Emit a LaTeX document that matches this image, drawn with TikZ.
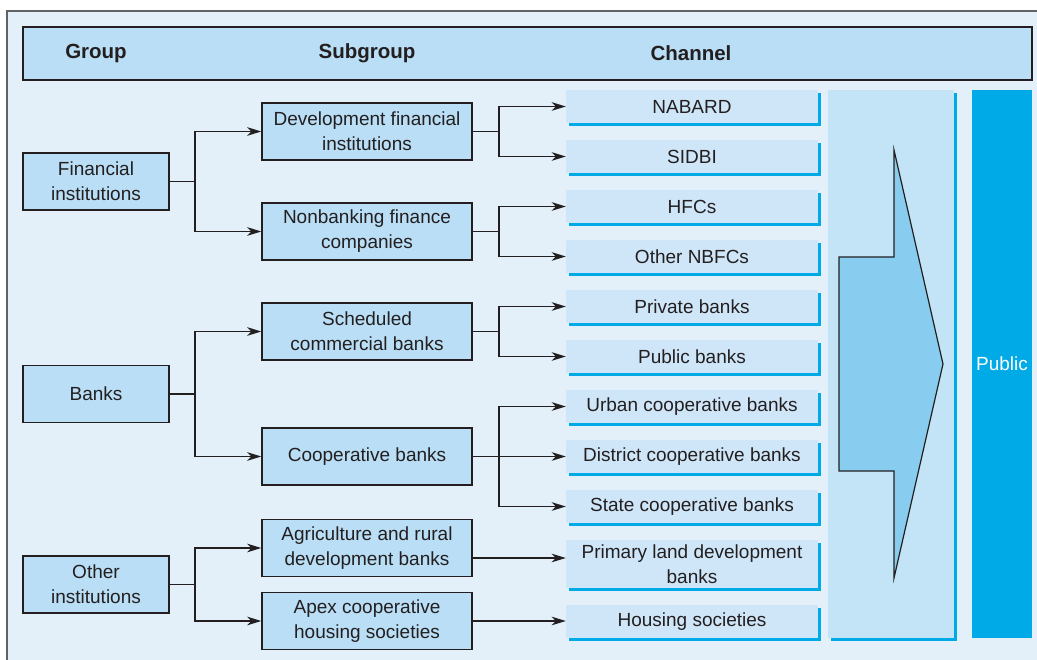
\documentclass[tikz,border=0pt]{standalone}
\usepackage{fontspec}
\setmainfont{Liberation Sans}
\usetikzlibrary{arrows.meta,shadows}
\definecolor{bgc}{RGB}{227,240,250}
\definecolor{boxc}{RGB}{185,222,245}
\definecolor{chc}{RGB}{207,230,248}
\definecolor{panelc}{RGB}{195,228,246}
\definecolor{arrc}{RGB}{136,205,240}
\definecolor{bluec}{RGB}{0,170,230}
\definecolor{framec}{RGB}{96,98,102}
\definecolor{txtc}{RGB}{35,31,32}
\definecolor{linec}{RGB}{35,31,32}
\tikzset{
  every node/.style={text=txtc, font=\fontsize{19}{25}\selectfont, align=center, inner sep=0pt},
  gbox/.style={draw=linec, line width=1.4pt, fill=boxc, minimum width=146pt, minimum height=57pt},
  sbox/.style={draw=linec, line width=1.4pt, fill=boxc, minimum width=210pt, minimum height=57pt},
  cbox/.style={fill=chc, minimum width=252pt, minimum height=33pt,
    drop shadow={shadow xshift=3pt, shadow yshift=-3pt, fill=bluec, opacity=1}},
  hdr/.style={font=\fontsize{20.5}{25}\selectfont\bfseries},
  arr/.style={draw=linec, line width=1.6pt, -{Stealth[length=14pt,width=8.5pt,inset=4pt]}},
}
\begin{document}
\begin{tikzpicture}[x=1pt,y=-1pt]
\clip (0,0) rectangle (1037,660);
\fill[white] (0,0) rectangle (1037,660);
\draw[fill=bgc, draw=framec, line width=2pt] (7,11) rectangle (1050,680);
% header
\node[draw=linec, line width=1.6pt, fill=boxc, minimum width=1009pt, minimum height=53pt] (header) at (527.5,53.5) {};
\node[hdr] (hgroup) at (96,53) {Group};
\node[hdr] (hsub) at (367,53) {Subgroup};
\node[hdr] (hchan) at (691,53) {Channel};
% groups
\node[gbox] (fin) at (96,181.5) {Financial\\institutions};
\node[gbox] (banks) at (96,394) {Banks};
\node[gbox] (other) at (96,584.5) {Other\\institutions};
% subgroups
\node[sbox] (dev) at (367,131.5) {Development financial\\institutions};
\node[sbox] (nbfc) at (367,231.5) {Nonbanking finance\\companies};
\node[sbox] (sched) at (367,331.5) {Scheduled\\commercial banks};
\node[sbox] (coop) at (367,456.5) {Cooperative banks};
\node[sbox] (agri) at (367,548) {Agriculture and rural\\development banks};
\node[sbox] (apex) at (367,621) {Apex cooperative\\housing societies};
% channels
\node[cbox] (nabard) at (692,106.5) {NABARD};
\node[cbox] (sidbi) at (692,156.5) {SIDBI};
\node[cbox] (hfc) at (692,206.5) {HFCs};
\node[cbox] (onbfc) at (692,256.5) {Other NBFCs};
\node[cbox] (priv) at (692,306.5) {Private banks};
\node[cbox] (pub) at (692,356.5) {Public banks};
\node[cbox] (urban) at (692,406.5) {Urban cooperative banks};
\node[cbox] (dist) at (692,456.5) {District cooperative banks};
\node[cbox] (state) at (692,506.5) {State cooperative banks};
\node[cbox, minimum height=48pt] (prim) at (692,564) {Primary land development\\banks};
\node[cbox] (house) at (692,621.5) {Housing societies};
% panel, arrow, public
\node[fill=panelc, minimum width=126pt, minimum height=548pt,
  drop shadow={shadow xshift=3pt, shadow yshift=-3pt, fill=bluec, opacity=1}] (panel) at (891,364) {};
\draw[fill=arrc, draw=linec, line width=1.2pt, line join=miter]
  (839,257) -- (894,257) -- (894,150) -- (943,364) -- (894,578) -- (894,471) -- (839,471) -- cycle;
\node[fill=bluec, minimum width=60pt, minimum height=548pt] (public) at (1002,364) {};
\node[text=white] (publictxt) at (1002,364) {Public};
% connectors group -> subgroup
\draw[arr] (fin.east) -- ++(25,0) |- (dev.west);
\draw[arr] (fin.east) -- ++(25,0) |- (nbfc.west);
\draw[arr] (banks.east) -- ++(25,0) |- (sched.west);
\draw[arr] (banks.east) -- ++(25,0) |- (coop.west);
\draw[arr] (other.east) -- ++(25,0) |- (agri.west);
\draw[arr] (other.east) -- ++(25,0) |- (apex.west);
% connectors subgroup -> channel
\draw[arr] (dev.east) -- ++(26,0) |- (nabard.west);
\draw[arr] (dev.east) -- ++(26,0) |- (sidbi.west);
\draw[arr] (nbfc.east) -- ++(26,0) |- (hfc.west);
\draw[arr] (nbfc.east) -- ++(26,0) |- (onbfc.west);
\draw[arr] (sched.east) -- ++(26,0) |- (priv.west);
\draw[arr] (sched.east) -- ++(26,0) |- (pub.west);
\draw[arr] (coop.east) -- ++(26,0) |- (urban.west);
\draw[arr] (coop.east) -- (dist.west);
\draw[arr] (coop.east) -- ++(26,0) |- (state.west);
\draw[arr] ([yshift=-10pt]agri.east) -- ([yshift=6pt]prim.west);
\draw[arr] (apex.east) -- (apex.east -| house.west);
\end{tikzpicture}
\end{document}
